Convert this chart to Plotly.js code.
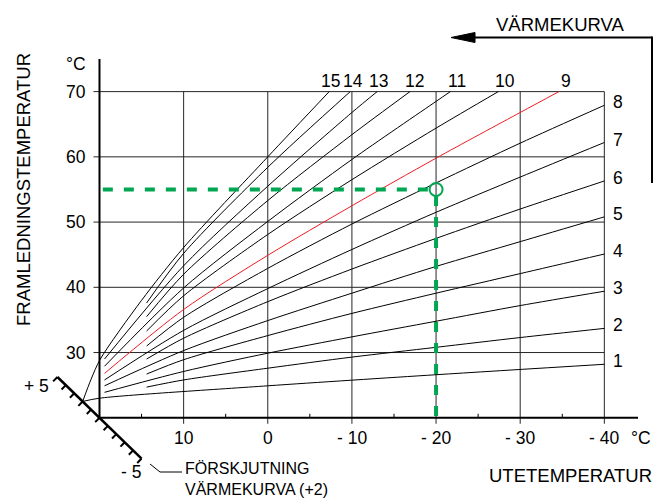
<!DOCTYPE html>
<html><head><meta charset="utf-8">
<script src="https://cdn.plot.ly/plotly-3.0.1.min.js"></script>
<style>html,body{margin:0;padding:0;background:#fff}#chart{width:665px;height:501px}</style>
</head><body><div id="chart"></div>
<script>
// ---------- data ----------
const outdoorTicks = [10, 0, -10, -20, -30, -40];
const outdoorTickText = ['10', '0', '- 10', '- 20', '- 30', '- 40'];
const outdoorMinor = [15, 5, -5, -15, -25, -35];
const flowTicks = [30, 40, 50, 60, 70];
const flowTickText = ['30', '40', '50', '60', '70'];
const offsetSteps = [-5, -4, -3, -2, -1, 0, 1, 2, 3, 4, 5];
const offsetLabels = ['- 5', '+ 5'];
const selectedOffset = 2;

const curve1To = [22.0, 20, 0, -20, -40];
const curve1Flow = [22.5, 23.0, 24.9, 26.6, 28.2];
const curve2To = [14.4, 10, 0, -10, -20, -30, -40];
const curve2Flow = [24.7, 25.8, 27.6, 29.3, 30.8, 32.3, 33.7];
const curve3To = [19.4, 10, 0, -10, -20, -30, -40];
const curve3Flow = [23.9, 27.1, 29.9, 32.4, 34.8, 37.2, 39.4];
const curve4To = [14.4, 10, 0, -10, -20, -30, -40];
const curve4Flow = [26.7, 28.9, 32.6, 36.0, 39.1, 42.1, 45.1];
const curve5To = [19.4, 10, 0, -10, -20, -30, -40];
const curve5Flow = [24.9, 30.3, 34.9, 39.1, 43.2, 47.0, 50.8];
const curve6To = [14.4, 10, 0, -10, -20, -30, -40];
const curve6Flow = [29.0, 32.2, 37.8, 42.8, 47.5, 52.0, 56.3];
const curve7To = [19.4, 10, 0, -10, -20, -30, -40];
const curve7Flow = [25.8, 33.4, 39.8, 45.8, 51.5, 56.9, 62.2];
const curve8To = [14.4, 10, 0, -10, -20, -30, -40];
const curve8Flow = [31.0, 35.4, 42.9, 49.7, 56.0, 62.1, 67.9];
const curve9To = [19.4, 10, 0, -10, -20, -30, -34.6];
const curve9Flow = [26.8, 36.6, 44.9, 52.5, 59.8, 66.8, 70];
const curve10To = [14.4, 10, 0, -10, -20, -27.4];
const curve10Flow = [33.3, 38.7, 48.1, 56.5, 64.4, 70];
const curve11To = [19.4, 10, 0, -10, -20, -21.7];
const curve11Flow = [27.9, 39.9, 50.1, 59.6, 68.5, 70];
const curve12To = [14.4, 10, 0, -10, -16.9];
const curve12Flow = [35.5, 42.0, 53.3, 63.4, 70];
const curve13To = [19.4, 10, 0, -10, -13.0];
const curve13Flow = [29.0, 43.3, 55.5, 66.8, 70];
const curve14To = [14.4, 10, 0, -9.8];
const curve14Flow = [37.6, 45.2, 58.4, 70];
const curve15To = [22.0, 21.0, 19.9, 15, 10, 0, -7.3];
const curve15Flow = [22.5, 25.9, 29.0, 38.0, 46.1, 60, 70];

const curveNames = ['1','2','3','4','5','6','7','8','9','10','11','12','13','14','15'];
const highlightCurve = '9';
const readOutdoor = -20;
const readFlow = 55;
const guideStart = 19.6;

// ---------- layout geometry ----------
const W = 665, H = 501;
const M = {l: 49, r: 27, t: 59, b: 18};
const xRange = [26, -44], yRange = [10, 75];
const plotW = W - M.l - M.r, plotH = H - M.t - M.b;
const pxX = plotW / (xRange[0] - xRange[1]);
const pxY = plotH / (yRange[1] - yRange[0]);
const px2pX = p => (p - M.l) / plotW;
const px2pY = p => (H - M.b - p) / plotH;

const FONT = 'Liberation Sans, Arial, Helvetica, sans-serif';
const GRID = '#262626';
const GREEN = '#00a651';
const RED = '#ee1c25';

const curveTo = [curve1To,curve2To,curve3To,curve4To,curve5To,curve6To,curve7To,curve8To,curve9To,curve10To,curve11To,curve12To,curve13To,curve14To,curve15To];
const curveFlow = [curve1Flow,curve2Flow,curve3Flow,curve4Flow,curve5Flow,curve6Flow,curve7Flow,curve8Flow,curve9Flow,curve10Flow,curve11Flow,curve12Flow,curve13Flow,curve14Flow,curve15Flow];

const traces = [];
curveNames.forEach((n, i) => {
  traces.push({
    x: curveTo[i], y: curveFlow[i], mode: 'lines', hoverinfo: 'skip',
    line: {color: n === highlightCurve ? RED : '#000', width: 1, shape: 'spline', smoothing: 0.8}
  });
});

// green reading guide
const circR = 6.5;
traces.push({x: [guideStart, readOutdoor + circR / pxX], y: [readFlow, readFlow], mode: 'lines', hoverinfo: 'skip',
  line: {color: GREEN, width: 4, dash: '10px,11px'}});
traces.push({x: [readOutdoor, readOutdoor], y: [readFlow - circR / pxY, 20], mode: 'lines', hoverinfo: 'skip',
  line: {color: GREEN, width: 4, dash: '10px,11px'}});
traces.push({x: [readOutdoor], y: [readFlow], mode: 'markers', hoverinfo: 'skip',
  marker: {symbol: 'circle-open', size: 13, color: GREEN, line: {width: 2, color: GREEN}}});

const shapes = [];
const tickOut = 6;
// vertical grid lines
outdoorTicks.forEach(v => shapes.push({type: 'line', xref: 'x', yref: 'y', layer: 'below',
  x0: v, x1: v, y0: 20 - tickOut / pxY, y1: 70, line: {color: GRID, width: 1}}));
// horizontal grid lines
flowTicks.forEach(v => shapes.push({type: 'line', xref: 'x', yref: 'y', layer: 'below',
  x0: 20 + tickOut / pxX, x1: -40, y0: v, y1: v, line: {color: GRID, width: 1}}));
// minor ticks
outdoorMinor.forEach(v => shapes.push({type: 'line', xref: 'x', yref: 'y',
  x0: v, x1: v, y0: 20, y1: 20 + 4 / pxY, line: {color: '#000', width: 1}}));
// axes
shapes.push({type: 'line', xref: 'x', yref: 'y', x0: 20, x1: 20, y0: 20 - 1 / pxY, y1: yRange[1], line: {color: '#000', width: 2}});
shapes.push({type: 'line', xref: 'x', yref: 'y', x0: 20, x1: xRange[1], y0: 20, y1: 20, line: {color: '#000', width: 2}});

// offset (förskjutning) diagonal scale
const stepTo = 1.0, stepFlow = 1.25;
const sMin = offsetSteps[0], sMax = offsetSteps[offsetSteps.length - 1];
shapes.push({type: 'line', xref: 'x', yref: 'y', x0: 20 + sMin * stepTo, y0: 20 + sMin * stepFlow,
  x1: 20 + sMax * stepTo, y1: 20 + sMax * stepFlow, line: {color: '#000', width: 2.5}});
offsetSteps.forEach(s => {
  const bx = 20 + s * stepTo, by = 20 + s * stepFlow;
  shapes.push({type: 'line', xref: 'x', yref: 'y', x0: bx, y0: by,
    x1: bx + 4.3 / pxX, y1: by - 4.4 / pxY, line: {color: '#000', width: 2}});
});

// VÄRMEKURVA arrow
shapes.push({type: 'line', xref: 'paper', yref: 'paper', x0: px2pX(472), x1: px2pX(652), y0: px2pY(37.5), y1: px2pY(37.5), line: {color: '#000', width: 2}});
shapes.push({type: 'line', xref: 'paper', yref: 'paper', x0: px2pX(652), x1: px2pX(652), y0: px2pY(36.5), y1: px2pY(183), line: {color: '#000', width: 2}});
shapes.push({type: 'path', xref: 'paper', yref: 'paper', fillcolor: '#000', line: {color: '#000', width: 1},
  path: `M ${px2pX(451)} ${px2pY(37.5)} L ${px2pX(475)} ${px2pY(32.5)} L ${px2pX(475)} ${px2pY(42.5)} Z`});
// leader for FÖRSKJUTNING
shapes.push({type: 'path', xref: 'paper', yref: 'paper', line: {color: '#000', width: 1},
  path: `M ${px2pX(150)} ${px2pY(464)} L ${px2pX(160)} ${px2pY(472)} L ${px2pX(182)} ${px2pY(472)}`});

const ann = [];
const f = (s) => ({family: FONT, size: s, color: '#000'});
const TICK = 17.5, TITLE = 18.5;
outdoorTicks.forEach((v, i) => ann.push({x: v, y: 20, xref: 'x', yref: 'y', text: outdoorTickText[i], showarrow: false,
  xanchor: 'center', yanchor: 'middle', yshift: -20, font: f(TICK)}));
flowTicks.forEach((v, i) => ann.push({x: 20, y: v, xref: 'x', yref: 'y', text: flowTickText[i], showarrow: false,
  xanchor: 'right', yanchor: 'middle', xshift: -11, font: f(TICK)}));
// curve labels
const topShift = {'9': 7, '10': 7, '11': 7, '12': 5, '13': 1, '14': 3, '15': 1};
curveNames.forEach((n, i) => {
  const xs = curveTo[i], ys = curveFlow[i];
  const lx = xs[xs.length - 1], ly = ys[ys.length - 1];
  if (ly >= 70) {
    ann.push({x: lx, y: 70, xref: 'x', yref: 'y', text: n, showarrow: false, xanchor: 'center', yanchor: 'middle',
      xshift: topShift[n], yshift: 11, font: f(TICK)});
  } else {
    ann.push({x: lx, y: ly, xref: 'x', yref: 'y', text: n, showarrow: false, xanchor: 'left', yanchor: 'middle',
      xshift: 7, yshift: 3, font: f(TICK)});
  }
});
// offset labels
ann.push({x: 20 + sMax * stepTo, y: 20 + sMax * stepFlow, xref: 'x', yref: 'y', text: offsetLabels[1], showarrow: false,
  xanchor: 'right', yanchor: 'middle', xshift: -6, yshift: -9, font: f(TICK)});
ann.push({x: 20 + sMin * stepTo, y: 20 + sMin * stepFlow, xref: 'x', yref: 'y', text: offsetLabels[0], showarrow: false,
  xanchor: 'right', yanchor: 'middle', xshift: 1, yshift: -13, font: f(TICK)});
// unit labels & titles
ann.push({x: px2pX(76), y: px2pY(64), xref: 'paper', yref: 'paper', text: '°C', showarrow: false, xanchor: 'center', yanchor: 'middle', font: f(TICK)});
ann.push({x: px2pX(641), y: px2pY(438), xref: 'paper', yref: 'paper', text: '°C', showarrow: false, xanchor: 'center', yanchor: 'middle', font: f(TICK)});
ann.push({x: px2pX(560), y: px2pY(24), xref: 'paper', yref: 'paper', text: 'VÄRMEKURVA', showarrow: false, xanchor: 'center', yanchor: 'middle', font: f(TITLE)});
ann.push({x: px2pX(654), y: px2pY(475), xref: 'paper', yref: 'paper', text: 'UTETEMPERATUR', showarrow: false, xanchor: 'right', yanchor: 'middle', font: f(TITLE)});
ann.push({x: px2pX(23), y: px2pY(190), xref: 'paper', yref: 'paper', text: 'FRAMLEDNINGSTEMPERATUR', showarrow: false, textangle: -90, xanchor: 'center', yanchor: 'middle', font: f(TITLE)});
ann.push({x: px2pX(183), y: px2pY(478.5), xref: 'paper', yref: 'paper', text: 'FÖRSKJUTNING<br>VÄRMEKURVA (+2)', showarrow: false,
  xanchor: 'left', yanchor: 'middle', align: 'left', font: f(16)});

const layout = {
  width: W, height: H, margin: M, showlegend: false,
  paper_bgcolor: '#fff', plot_bgcolor: '#fff',
  xaxis: {range: xRange, visible: false, fixedrange: true},
  yaxis: {range: yRange, visible: false, fixedrange: true},
  shapes: shapes, annotations: ann, font: {family: FONT}
};
Plotly.newPlot('chart', traces, layout, {displayModeBar: false, staticPlot: true});
</script></body></html>
